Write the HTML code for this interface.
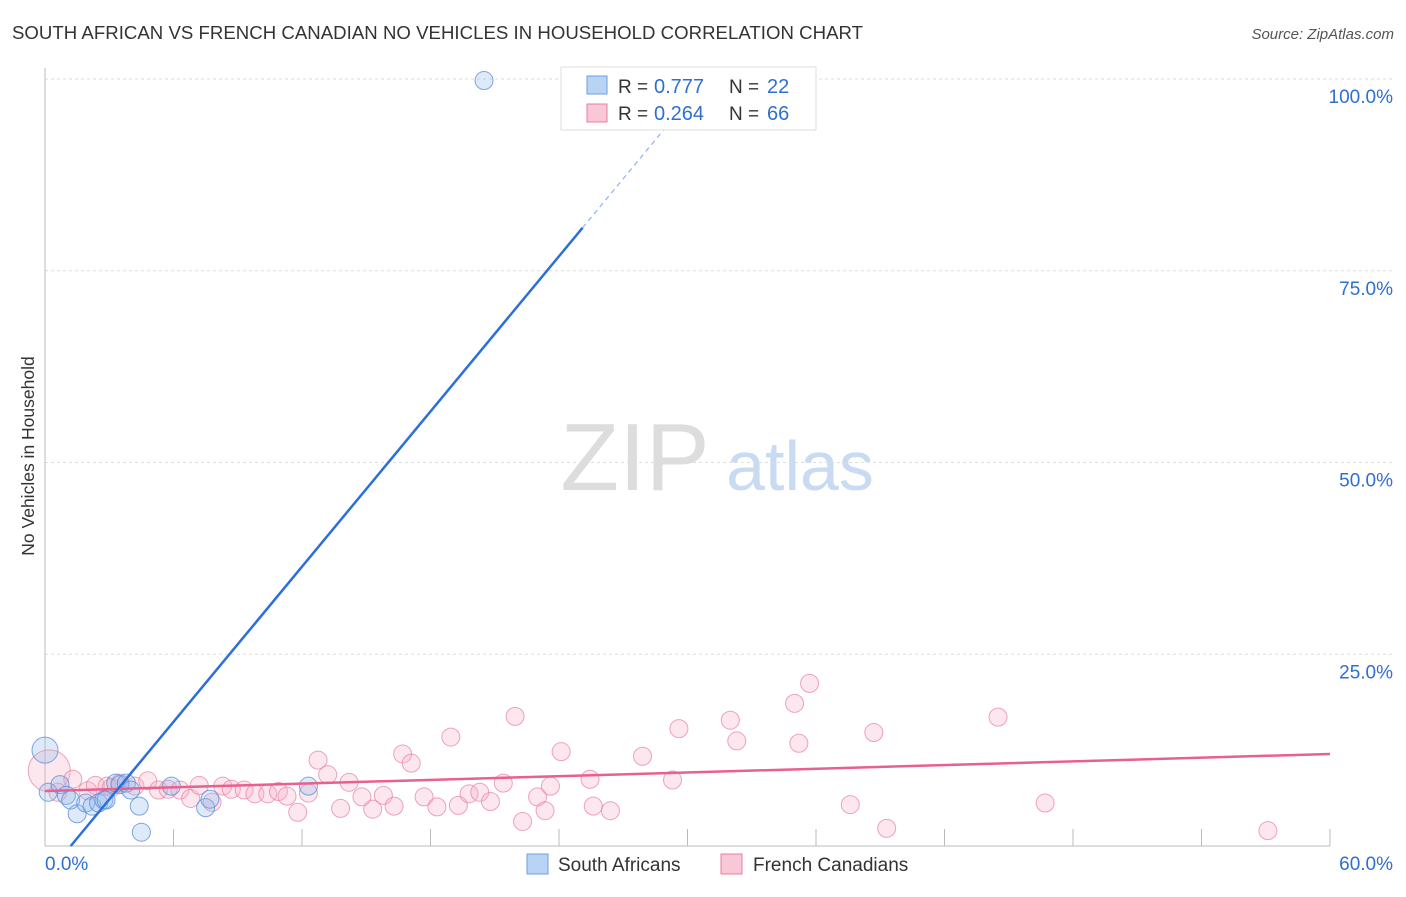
<!DOCTYPE html>
<html><head><meta charset="utf-8"><style>
body{margin:0;background:#fff;font-family:"Liberation Sans",sans-serif}
svg text{font-family:"Liberation Sans",sans-serif}
</style></head><body>
<svg width="1406" height="892" xmlns="http://www.w3.org/2000/svg">
<text x="12" y="39" font-size="18.6" fill="#333" textLength="851">SOUTH AFRICAN VS FRENCH CANADIAN NO VEHICLES IN HOUSEHOLD CORRELATION CHART</text>
<text x="1394" y="39" font-size="15" fill="#555" text-anchor="end" font-style="italic">Source: ZipAtlas.com</text>
<text x="34" y="456" font-size="17.5" fill="#333" text-anchor="middle" transform="rotate(-90 34 456)">No Vehicles in Household</text>
<g><text x="635" y="490" font-size="96" fill="#ddd" font-family="Liberation Serif" text-anchor="middle">ZIP</text><text x="800" y="490" font-size="70" fill="#c8dbf2" text-anchor="middle">atlas</text></g>
<g id="grid"></g><g id="axes"></g><g id="marks"></g>
<g>
<rect x="561" y="67" width="255" height="63" fill="#fff" stroke="#ddd"/>
<rect x="587" y="76" width="20" height="18" fill="#b9d3f5" stroke="#6a9fe0"/>
<rect x="587" y="104" width="20" height="18" fill="#f9c8d7" stroke="#e87ea0"/>
<text x="618" y="93" font-size="19" fill="#333">R =</text><text x="654" y="93" font-size="20" fill="#2f6fd0">0.777</text>
<text x="729" y="93" font-size="19" fill="#333">N =</text><text x="767" y="93" font-size="20" fill="#2f6fd0">22</text>
<text x="618" y="120" font-size="19" fill="#333">R =</text><text x="654" y="120" font-size="20" fill="#2f6fd0">0.264</text>
<text x="729" y="120" font-size="19" fill="#333">N =</text><text x="767" y="120" font-size="20" fill="#2f6fd0">66</text>
</g>
<g>
<rect x="527" y="854" width="21" height="20" fill="#b9d3f5" stroke="#6a9fe0"/>
<text x="558" y="871" font-size="19" fill="#333">South Africans</text>
<rect x="721" y="854" width="21" height="20" fill="#f9c8d7" stroke="#e87ea0"/>
<text x="753" y="871" font-size="19" fill="#333">French Canadians</text>
</g>
</svg>
<script>
const yTicks=[25,50,75,100];
const yTickLabels=["25.0%","50.0%","75.0%","100.0%"];
const blueX=[0,0.15,0.7,1.0,1.2,1.5,1.9,2.2,2.5,2.75,2.85,3.3,3.5,3.8,4.0,4.4,4.5,5.9,7.5,7.7,12.3,20.5];
const blueY=[12.5,7,8,6.6,6,4.2,5.6,5.2,5.6,6,6,8.2,8,8.2,7.3,5.2,1.8,7.8,5,6.1,7.8,99.8];
const pinkX=[0.2,0.6,1.3,2.0,2.35,2.9,3.5,4.2,4.8,5.3,5.75,6.3,6.8,7.2,7.8,8.3,8.7,9.3,9.8,10.4,10.9,11.3,11.8,12.3,12.75,13.2,13.8,14.2,14.8,15.3,15.8,16.3,16.7,17.1,17.7,18.3,18.95,19.3,19.8,20.3,20.8,21.4,21.95,22.3,23.0,23.35,23.6,24.1,25.45,25.6,26.4,27.9,29.3,29.6,32.0,32.3,35.0,35.2,35.7,37.6,38.7,39.3,44.5,46.7,57.1,3.1];
const pinkY=[9.8,7,8.7,7.2,7.9,7.8,8.2,7.8,8.5,7.3,7.4,7.3,6.2,7.9,5.7,7.8,7.4,7.3,6.8,6.8,7.1,6.5,4.4,6.9,11.2,9.3,4.9,8.3,6.4,4.8,6.6,5.2,12,10.8,6.4,5.1,14.2,5.3,6.8,7,5.8,8.2,16.9,3.2,6.4,4.6,7.8,12.3,8.7,5.2,4.6,11.7,8.6,15.3,16.4,13.7,18.6,13.4,21.2,5.4,14.8,2.3,16.8,5.6,2,7.6];
const X0=45,X1=1330,Y0=846,Y1=79;
const sx=v=>X0+(X1-X0)*v/60, sy=v=>Y0-(Y0-Y1)*v/100;
const NS="http://www.w3.org/2000/svg";
function mk(t,a,p){const e=document.createElementNS(NS,t);for(const k in a)e.setAttribute(k,a[k]);p.appendChild(e);return e;}
const grid=document.getElementById('grid'),axes=document.getElementById('axes'),marks=document.getElementById('marks');
yTicks.forEach((v,i)=>{
 const l=mk('line',{x1:X0,x2:1395,y1:sy(v),y2:sy(v),stroke:'#ddd','stroke-dasharray':'3,3'},grid);
 
 
 const t=mk('text',{x:1393,y:sy(v)+24,'font-size':19,fill:'#2f6fd0','text-anchor':'end'},axes);
 t.textContent=yTickLabels[i];
 
 
});
let ax=mk('line',{x1:X0,x2:X0,y1:68,y2:Y0,stroke:'#bbb'},axes);


ax=mk('line',{x1:X0,x2:X1,y1:Y0,y2:Y0,stroke:'#bbb'},axes);


for(let v=6;v<=60;v+=6){const tk=mk('line',{x1:sx(v),x2:sx(v),y1:829,y2:Y0,stroke:'#bbb'},axes);
 
 }
let xl=mk('text',{x:45,y:870,'font-size':19,fill:'#2f6fd0'},axes);xl.textContent='0.0%';


xl=mk('text',{x:1393,y:870,'font-size':19,fill:'#2f6fd0','text-anchor':'end'},axes);xl.textContent='60.0%';


pinkX.forEach((x,i)=>{const c=mk('circle',{cx:sx(x),cy:sy(pinkY[i]),r:i==0?21:9,fill:'rgba(246,175,200,0.3)',stroke:'rgba(232,126,160,0.7)','stroke-width':1},marks);
 
 });
blueX.forEach((x,i)=>{const c=mk('circle',{cx:sx(x),cy:sy(blueY[i]),r:i==0?13:9,fill:'rgba(150,185,235,0.3)',stroke:'rgba(90,145,220,0.8)','stroke-width':1},marks);
 
 });
let ln=mk('line',{x1:sx(0),y1:sy(7.17),x2:sx(60),y2:sy(12.0),stroke:'#e8608c','stroke-width':2.5},marks);


const bs=(y)=>1.2+y*(25.1-1.2)/80.6;
ln=mk('line',{x1:sx(bs(0)),y1:sy(0),x2:sx(bs(80.6)),y2:sy(80.6),stroke:'#2b6fd8','stroke-width':2.5},marks);


ln=mk('line',{x1:sx(bs(80.6)),y1:sy(80.6),x2:sx(bs(94)),y2:sy(94),stroke:'#8fb3e8','stroke-width':1.2,'stroke-dasharray':'5,4'},marks);


</script>
</body></html>
